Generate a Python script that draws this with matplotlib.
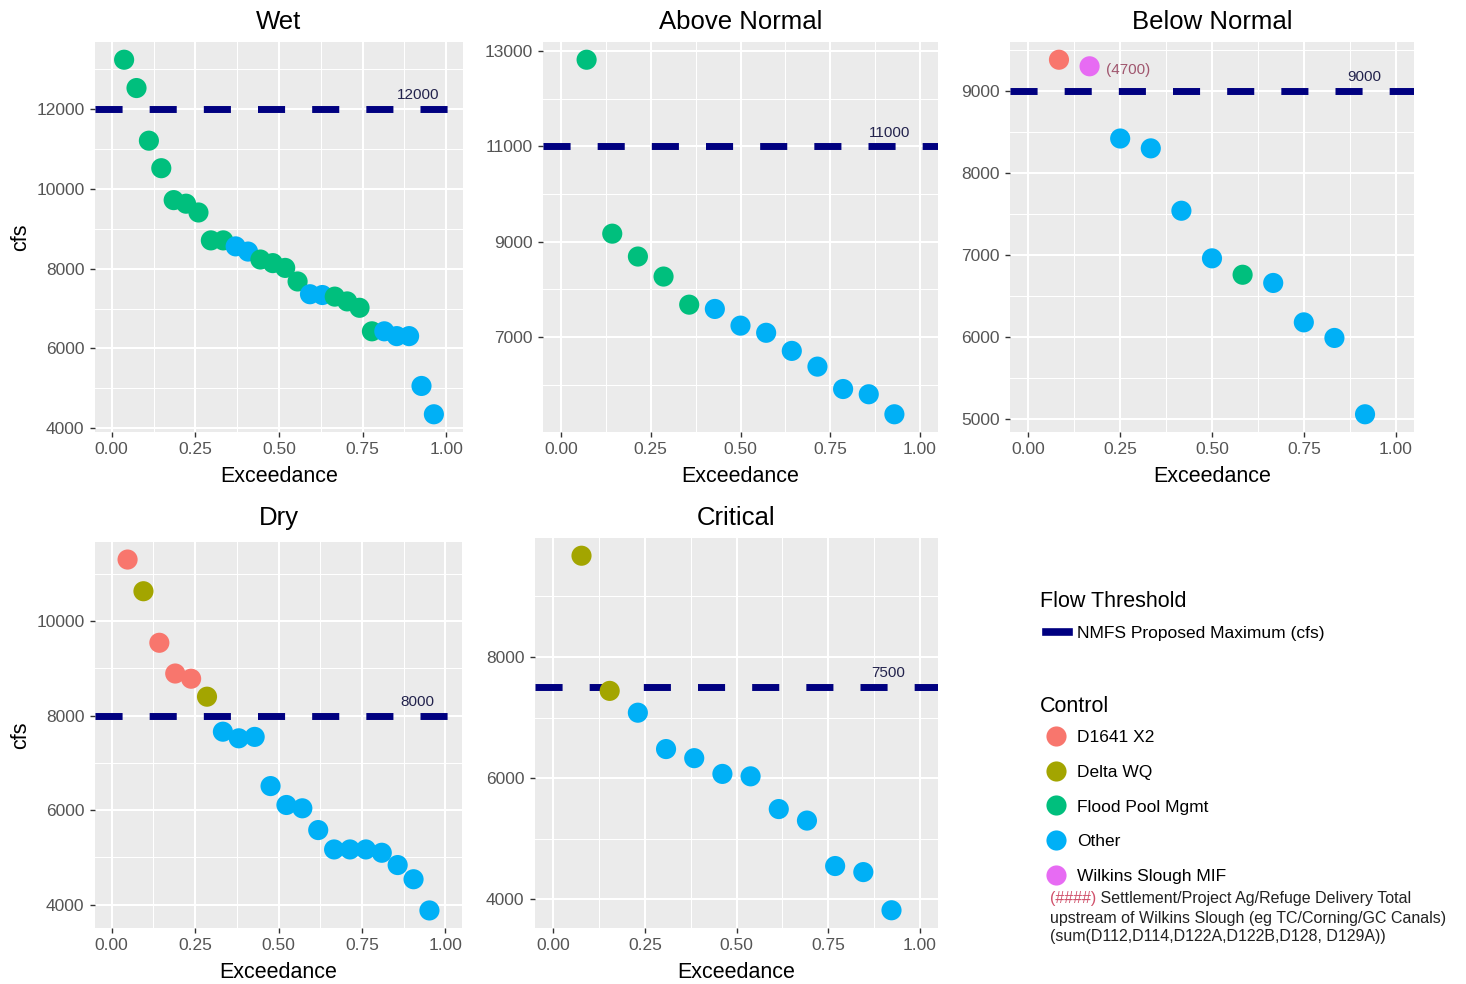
import matplotlib
matplotlib.use("Agg")
import matplotlib.pyplot as plt
from matplotlib.lines import Line2D
import numpy as np

plt.rcParams["font.family"] = ["Liberation Sans", "DejaVu Sans"]

# control colours (ggplot hue palette)
CONTROLS = ["D1641 X2", "Delta WQ", "Flood Pool Mgmt", "Other", "Wilkins Slough MIF"]
CTRL_COLORS = {"D1641 X2": "#F8766D", "Delta WQ": "#A3A500", "Flood Pool Mgmt": "#00BF7D",
               "Other": "#00B0F6", "Wilkins Slough MIF": "#E76BF3"}

# ---- data (cfs, sorted high to low; exceedance = rank / (n + 1)) ----
wet_cfs = [13240, 12530, 11210, 10520, 9720, 9630, 9410, 8710, 8710, 8560, 8430, 8230, 8140,
           8020, 7680, 7360, 7340, 7300, 7180, 7020, 6430, 6430, 6310, 6310, 5060, 4350]
wet_ctrl = ["Flood Pool Mgmt"] * 9 + ["Other"] * 2 + ["Flood Pool Mgmt"] * 4 + ["Other"] * 2 \
    + ["Flood Pool Mgmt"] * 4 + ["Other"] * 5

an_cfs = [12820, 9170, 8690, 8270, 7680, 7590, 7240, 7090, 6710, 6380, 5910, 5800, 5380]
an_ctrl = ["Flood Pool Mgmt"] * 5 + ["Other"] * 8

bn_cfs = [9380, 9300, 8420, 8300, 7540, 6960, 6760, 6660, 6180, 5990, 5060]
bn_ctrl = ["D1641 X2", "Wilkins Slough MIF", "Other", "Other", "Other", "Other",
           "Flood Pool Mgmt", "Other", "Other", "Other", "Other"]

dry_cfs = [11300, 10630, 9540, 8890, 8780, 8400, 7660, 7520, 7550, 6510, 6110, 6040, 5580,
           5170, 5170, 5170, 5100, 4840, 4540, 3880]
dry_ctrl = ["D1641 X2", "Delta WQ", "D1641 X2", "D1641 X2", "D1641 X2", "Delta WQ"] + ["Other"] * 14

crit_cfs = [9670, 7440, 7080, 6480, 6330, 6070, 6030, 5490, 5300, 4550, 4450, 3820]
crit_ctrl = ["Delta WQ", "Delta WQ"] + ["Other"] * 10

titles = ["Wet", "Above Normal", "Below Normal", "Dry", "Critical"]
thresholds = [12000, 11000, 9000, 8000, 7500]
y_ticks = [[4000, 6000, 8000, 10000, 12000],
           [7000, 9000, 11000, 13000],
           [5000, 6000, 7000, 8000, 9000],
           [4000, 6000, 8000, 10000],
           [4000, 6000, 8000]]
x_ticks = [0.0, 0.25, 0.5, 0.75, 1.0]
x_tick_labels = ["0.00", "0.25", "0.50", "0.75", "1.00"]
ann_label = "(4700)"   # delivery total shown next to the Wilkins Slough point (Below Normal)

series = [(wet_cfs, wet_ctrl), (an_cfs, an_ctrl), (bn_cfs, bn_ctrl),
          (dry_cfs, dry_ctrl), (crit_cfs, crit_ctrl)]

# panel boxes in pixels: left, top, right, bottom
W, H = 1466, 984
boxes = [(95, 42, 463, 432), (543, 42, 938, 432), (1010, 42, 1414, 432),
         (95, 542, 462, 928), (535, 538, 938, 928)]
title_baseline = [29, 29, 29, 525, 525]

fig = plt.figure(figsize=(W / 100, H / 100), dpi=100)

for i, ((cfs, ctrl), title, thr, yt, box) in enumerate(zip(series, titles, thresholds, y_ticks, boxes)):
    l, t, r, b = box
    ax = fig.add_axes([l / W, 1 - b / H, (r - l) / W, (b - t) / H])
    ax.set_facecolor("#EBEBEB")
    for s in ax.spines.values():
        s.set_visible(False)

    n = len(cfs)
    exc = np.arange(1, n + 1) / (n + 1)
    cols = [CTRL_COLORS[c] for c in ctrl]

    # y limits like ggplot: data + threshold, 5% expansion
    lo, hi = min(min(cfs), thr), max(max(cfs), thr)
    pad = 0.05 * (hi - lo)
    ax.set_ylim(lo - pad, hi + pad)
    ax.set_xlim(-0.05, 1.05)

    # grid
    ax.set_xticks(x_ticks)
    ax.set_xticklabels(x_tick_labels)
    ax.set_yticks(yt)
    step = yt[1] - yt[0]
    minor_y = [v + step / 2 for v in [yt[0] - step] + yt]
    ax.set_yticks([v for v in minor_y if lo - pad < v < hi + pad], minor=True)
    ax.set_xticks([0.125, 0.375, 0.625, 0.875], minor=True)
    ax.grid(which="major", color="white", linewidth=1.5)
    ax.grid(which="minor", color="white", linewidth=0.75)
    ax.set_axisbelow(True)
    ax.tick_params(which="major", length=3.5, width=1.0, color="#333333",
                   labelsize=12.5, labelcolor="#555555", pad=4)
    ax.tick_params(which="minor", length=0)

    ax.axhline(thr, color="#000080", linewidth=5, linestyle=(0, (3.9, 3.9)), zorder=2)
    ax.annotate(f"{thr}", xy=(0.915, thr), xytext=(0, 5), textcoords="offset points",
                ha="center", va="bottom", fontsize=11, color="#23234d")

    ax.scatter(exc, cfs, s=210, c=cols, edgecolors="none", zorder=3)

    if title == "Below Normal":
        k = ctrl.index("Wilkins Slough MIF")
        ax.annotate(ann_label, xy=(exc[k], cfs[k]), xytext=(12, -3), textcoords="offset points",
                    ha="left", va="center", fontsize=11, color="#a0566e")

    fig.text((l + r) / 2 / W, 1 - title_baseline[i] / H, title, fontsize=18.5,
             ha="center", va="baseline")
    ax.set_xlabel("Exceedance", fontsize=15.5, labelpad=6.5)
    if i in (0, 3):
        ax.set_ylabel("cfs", fontsize=15.5, labelpad=4)

# legends (titles drawn separately so the spacing can follow the reference)
fig.text(1040 / W, 1 - 607 / H, "Flow Threshold", fontsize=15.5, ha="left", va="baseline")
fig.text(1040 / W, 1 - 712 / H, "Control", fontsize=15.5, ha="left", va="baseline")

thr_handle = [Line2D([], [], color="#000080", linewidth=5.5)]
leg1 = fig.legend(thr_handle, ["NMFS Proposed Maximum (cfs)"], loc="center left",
                  bbox_to_anchor=(1030 / W, 1 - 633 / H), frameon=False,
                  fontsize=12.5, handlelength=1.35, handletextpad=0.46)
ctrl_handles = [Line2D([], [], marker="o", linestyle="", markersize=14.5,
                       markerfacecolor=CTRL_COLORS[c], markeredgecolor="none") for c in CONTROLS]
leg2 = fig.legend(ctrl_handles, CONTROLS, loc="center left",
                  bbox_to_anchor=(1028 / W, 1 - 807 / H), frameon=False,
                  fontsize=12.5, handlelength=1.4, handletextpad=0.55, labelspacing=1.12)

# footnote with a red marker for the delivery label format
fn = fig.text(1050 / W, 1 - 899 / H, "(####)", fontsize=11.5, color="#d0506a",
              va="center", ha="left")
ax.annotate(" Settlement/Project Ag/Refuge Delivery Total", xy=(1, 0.5), xycoords=fn,
            va="center", ha="left", fontsize=11.5, color="#222222", annotation_clip=False)
fig.text(1050 / W, 1 - 918 / H, "upstream of Wilkins Slough (eg TC/Corning/GC Canals)",
         fontsize=11.5, color="#222222", va="center", ha="left")
fig.text(1050 / W, 1 - 937 / H, "(sum(D112,D114,D122A,D122B,D128, D129A))",
         fontsize=11.5, color="#222222", va="center", ha="left")

fig.savefig("out.png", dpi=100)
